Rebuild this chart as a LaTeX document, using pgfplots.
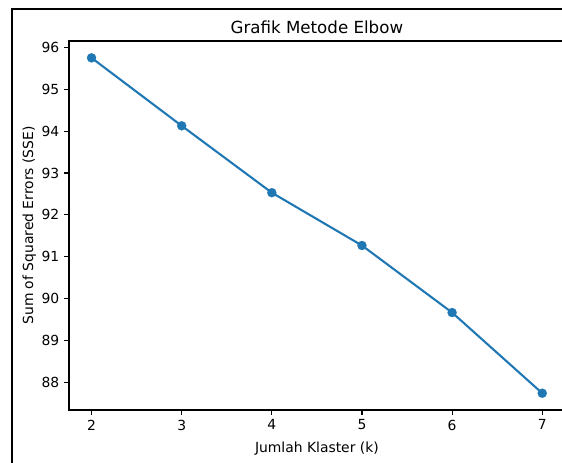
\documentclass[border=0pt]{standalone}
\usepackage{pgfplots}
\pgfplotsset{compat=1.18}
\usepackage{fontspec}
\setmainfont{DejaVu Sans}
\definecolor{tabblue}{HTML}{1F77B4}
\begin{document}
\begin{tikzpicture}
\path[use as bounding box] (0pt,0pt) rectangle (404.64pt,332.64pt);
\clip (0pt,0pt) rectangle (404.64pt,332.64pt);
\fill[white] (0pt,0pt) rectangle (404.64pt,332.64pt);
\draw[line width=1.44pt] (8.42pt,-5pt) -- (8.42pt,326.3pt) -- (420pt,326.3pt);
\begin{axis}[
  at={(49.68pt,37.44pt)}, anchor=south west,
  scale only axis,
  width=356.98pt, height=265.7pt,
  xmin=1.75, xmax=7.25, ymin=87.345, ymax=96.15,
  xtick={2,3,4,5,6,7},
  ytick={88,89,90,91,92,93,94,95,96},
  tick align=outside, tick pos=left,
  major tick length=3.5pt,
  every tick/.style={line width=0.8pt, black},
  axis line style={line width=0.8pt},
  /pgf/number format/assume math mode=true,
  tick label style={font=\fontsize{10}{12}\selectfont},
  label style={font=\fontsize{10}{12}\selectfont},
  title style={font=\fontsize{12}{14}\selectfont, yshift=-4.3pt},
  xlabel style={yshift=-1.2pt},
  ylabel style={yshift=-2.8pt},
  title={Grafik Metode Elbow},
  xlabel={Jumlah Klaster (k)},
  ylabel={Sum of Squared Errors (SSE)},
]
\addplot[tabblue, line width=1.5pt, mark=*, mark size=3.3pt, mark options={fill=tabblue, draw=tabblue, line width=0.1pt, solid}]
coordinates {(2,95.747) (3,94.126) (4,92.53) (5,91.27) (6,89.67) (7,87.745)};
\end{axis}
\end{tikzpicture}
\end{document}
